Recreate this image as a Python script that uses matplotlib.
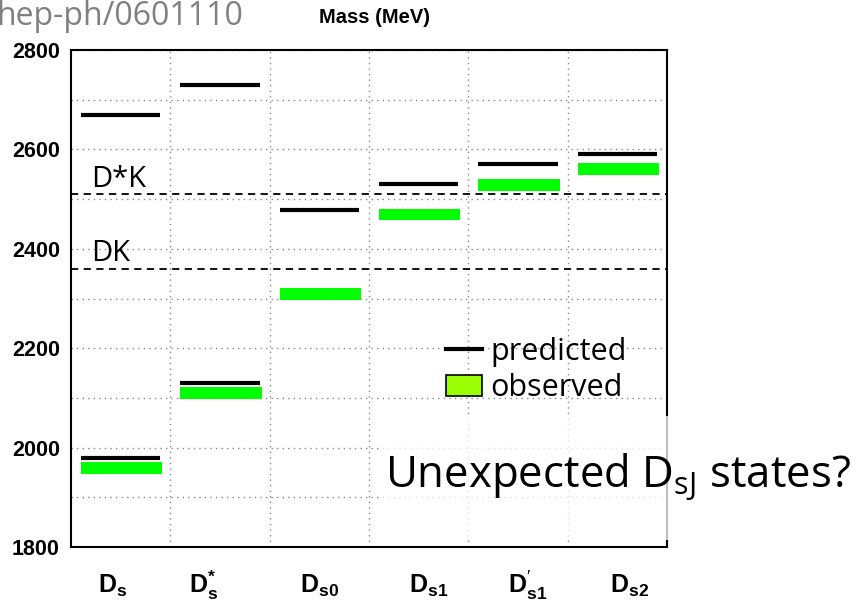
import matplotlib
matplotlib.use("Agg")
import matplotlib.pyplot as plt
from matplotlib.patches import Rectangle, Patch
from matplotlib.lines import Line2D

plt.rcParams['mathtext.fontset'] = 'custom'
plt.rcParams['mathtext.rm'] = 'Liberation Sans'
plt.rcParams['mathtext.bf'] = 'Liberation Sans:bold'

# charm-strange meson levels (MeV)
states = [r'$\mathbf{D}_\mathbf{s}$', r'$\mathbf{D}_\mathbf{s}^\mathbf{*}$',
          r'$\mathbf{D}_\mathbf{s0}$', r'$\mathbf{D}_\mathbf{s1}$',
          r"$\mathbf{D}_\mathbf{s1}^{\prime}$", r'$\mathbf{D}_\mathbf{s2}$']
label_x = [0.42, 1.34, 2.50, 3.60, 4.60, 5.62]

pred_col = [0, 0, 1, 1, 2, 3, 4, 5]
pred_mass = [1979, 2670, 2129, 2730, 2479, 2531, 2570, 2590]

obs_mass = [1959, 2110, 2309, 2469, 2529, 2560]

thresholds = {'DK': 2360, 'D*K': 2510}

fig = plt.figure(figsize=(8.57, 6.05), dpi=100)
ax = fig.add_axes([71/857, 1-547/605, 596/857, 497/605])

ax.set_xlim(0, 6)
ax.set_ylim(1800, 2800)

# observed bands
ax.bar([i + 0.51 for i in range(6)], [24]*6, width=0.82,
       bottom=[m - 12 for m in obs_mass], color='#00ff00', zorder=3)

# predicted levels
ax.hlines(pred_mass, [c + 0.1 for c in pred_col], [c + 0.9 for c in pred_col],
          colors='black', lw=3, zorder=4)

# thresholds
for name, m in thresholds.items():
    ax.axhline(m, color='black', ls=(0, (4, 3)), lw=1.3, zorder=2)
    ax.text(0.2, m + 15, name, fontsize=21, family='Open Sans', va='baseline')

ax.set_yticks(range(1800, 2801, 200))
ax.set_yticks(range(1800, 2801, 100), minor=True)
ax.set_yticklabels([str(v) for v in range(1800, 2801, 200)],
                   fontsize=15.5, fontweight='bold', family='Liberation Sans')
ax.set_xticks(range(1, 6))
ax.set_xticklabels([])
ax.tick_params(axis='both', which='both', length=0, pad=8)
ax.grid(True, which='both', color='#888888', ls=(0, (1, 3)), lw=1)
for s in ax.spines.values():
    s.set_linewidth(1.5)

for x, lab in zip(label_x, states):
    ax.text(x, 1708, lab, fontsize=18, ha='center', va='baseline')

ax.text(0.51, 1.055, 'Mass (MeV)', transform=ax.transAxes, fontsize=14.5,
        fontweight='bold', family='Liberation Sans', ha='center')

handles = [Line2D([], [], color='black', lw=3),
           Patch(facecolor='#99ff00', edgecolor='black', lw=1.2)]
leg = ax.legend(handles, ['predicted', 'observed'], loc='upper left',
                bbox_to_anchor=(0.603, 0.453), frameon=False, handlelength=1.2,
                handletextpad=0.25, labelspacing=0.2, borderpad=0,
                prop={'family': 'Open Sans', 'size': 22})
leg.set_zorder(5)

fig.text(-4/857, 1.0, 'hep-ph/0601110', color='#808080', fontsize=23,
         family='Open Sans', va='top')

# text box overlay
fig.patches.append(Rectangle((380/857, 1-540/605), 477/857, 124/605,
                             transform=fig.transFigure, facecolor='white',
                             alpha=0.75, edgecolor='none', zorder=10))
fig.text(385/857, 1-487/605, r'Unexpected D$_{\mathregular{sJ}}$ states?',
         fontsize=31.5, family='Open Sans', va='baseline', zorder=11)

fig.savefig('out.png', dpi=100)
